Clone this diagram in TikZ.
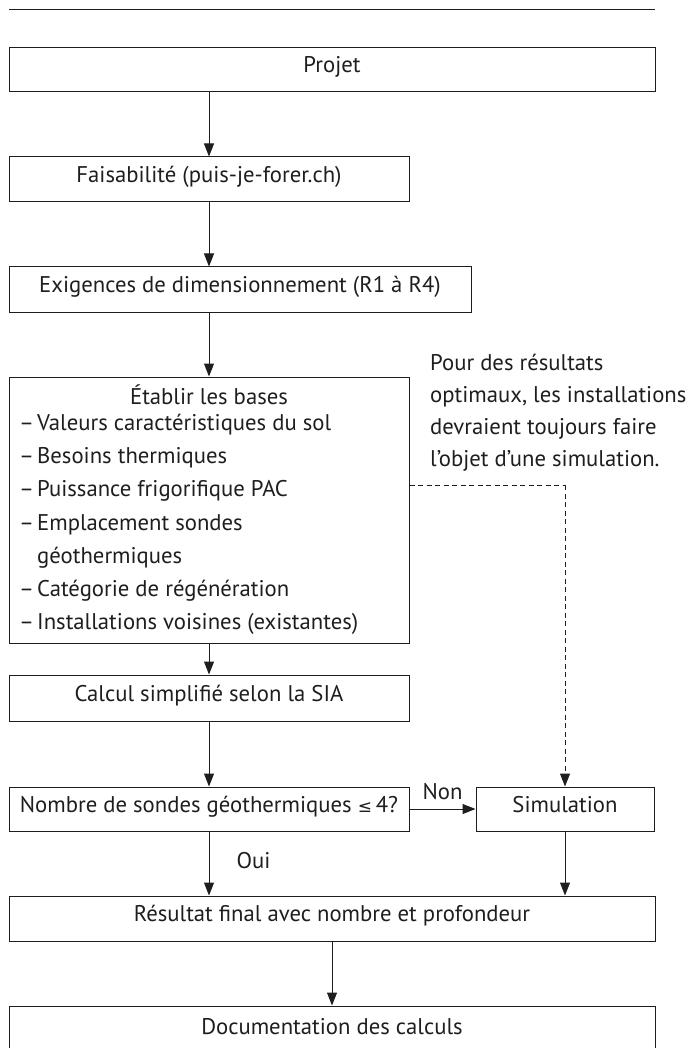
\documentclass[tikz,border=0pt]{standalone}
\usepackage{fontspec}
\setmainfont{PT Sans}
\newfontfamily\symf{DejaVu Sans}
\usetikzlibrary{arrows.meta}
\definecolor{ink}{HTML}{1E1E1E}
\begin{document}
\begin{tikzpicture}[x=1pt,y=-1pt,
  every node/.style={text=ink,font=\fontsize{22.7}{27}\selectfont},
  fbox/.style={draw=ink,line width=1pt,rectangle,inner sep=0pt,text height=0.7em,text depth=0.1em},
  txt/.style={inner sep=0pt,anchor=mid west},
  arr/.style={draw=ink,line width=1pt,-{Triangle[length=13pt,width=10pt]}},
  dsh/.style={draw=ink,line width=1pt,dash pattern=on 5pt off 3.5pt}]
\useasboundingbox (0,0) rectangle (694,1048);
\clip (0,0) rectangle (694,1048);
% top rule
\coordinate (r1) at (9,10);
\coordinate (r2) at (655,10);
\draw[ink,line width=1pt] (r1) -- (r2);
% boxes
\node[fbox,minimum width=646,minimum height=44] (proj) at (332,70) {Projet};
\node[fbox,minimum width=400,minimum height=45] (feas) at (209,179.5) {Faisabilité (puis-je-forer.ch)};
\node[fbox,minimum width=462,minimum height=45] (exig) at (240,289.5) {Exigences de dimensionnement (R1 à R4)};
\node[fbox,minimum width=400,minimum height=266] (etab) at (209,510) {};
\node[fbox,minimum width=400,minimum height=46] (calc) at (209,698) {Calcul simplifié selon la SIA};
\node[fbox,minimum width=400,minimum height=44] (nomb) at (209,809) {Nombre de sondes géothermiques {\symf\fontsize{17}{20}\selectfont ≤}\,4?};
\node[fbox,minimum width=178,minimum height=44] (simu) at (565,809) {Simulation};
\node[fbox,minimum width=646,minimum height=45] (resu) at (332,918.5) {Résultat final avec nombre et profondeur};
\node[fbox,minimum width=646,minimum height=50] (docu) at (332,1031) {Documentation des calculs};
% contents of etab
\node[inner sep=0pt,anchor=mid] (t0) at (209,402) {Établir les bases};
\node[txt] (t1) at (19,428) {\makebox[18pt][l]{–}Valeurs caractéristiques du sol};
\node[txt] (t2) at (19,461) {\makebox[18pt][l]{–}Besoins thermiques};
\node[txt] (t3) at (19,494) {\makebox[18pt][l]{–}Puissance frigorifique PAC};
\node[txt] (t4) at (19,528) {\makebox[18pt][l]{–}Emplacement sondes};
\node[txt] (t5) at (37,561) {géothermiques};
\node[txt] (t6) at (19,594) {\makebox[18pt][l]{–}Catégorie de régénération};
\node[txt] (t7) at (19,627) {\makebox[18pt][l]{–}Installations voisines (existantes)};
% note
\node[txt] (n1) at (430,368) {Pour des résultats};
\node[txt] (n2) at (430,400) {optimaux, les installations};
\node[txt] (n3) at (430,432) {devraient toujours faire};
\node[txt] (n4) at (430,464) {l’objet d’une simulation.};
% arrows
\coordinate (ax) at (209,0);
\draw[arr] (proj.south -| ax) -- (feas.north);
\draw[arr] (feas) -- (feas.south |- exig.north);
\draw[arr] (exig.south -| ax) -- (etab);
\draw[arr] (etab) -- (calc);
\draw[arr] (calc) -- (nomb);
\draw[arr] (nomb) -- node[pos=0.45,right=27pt,inner sep=0pt] (oui) {Oui} (nomb.south |- resu.north);
\draw[arr] (nomb) -- node[above=9pt,inner sep=0pt] (non) {Non} (simu);
\draw[arr] (simu) -- (simu.south |- resu.north);
\draw[arr] (resu) -- (docu);
\coordinate (dk) at (565,485);
\draw[dsh] (etab.east |- dk) -- (dk);
\draw[dsh,-{Triangle[length=13pt,width=10pt]}] (dk) -- (simu.north);
\end{tikzpicture}
\end{document}
